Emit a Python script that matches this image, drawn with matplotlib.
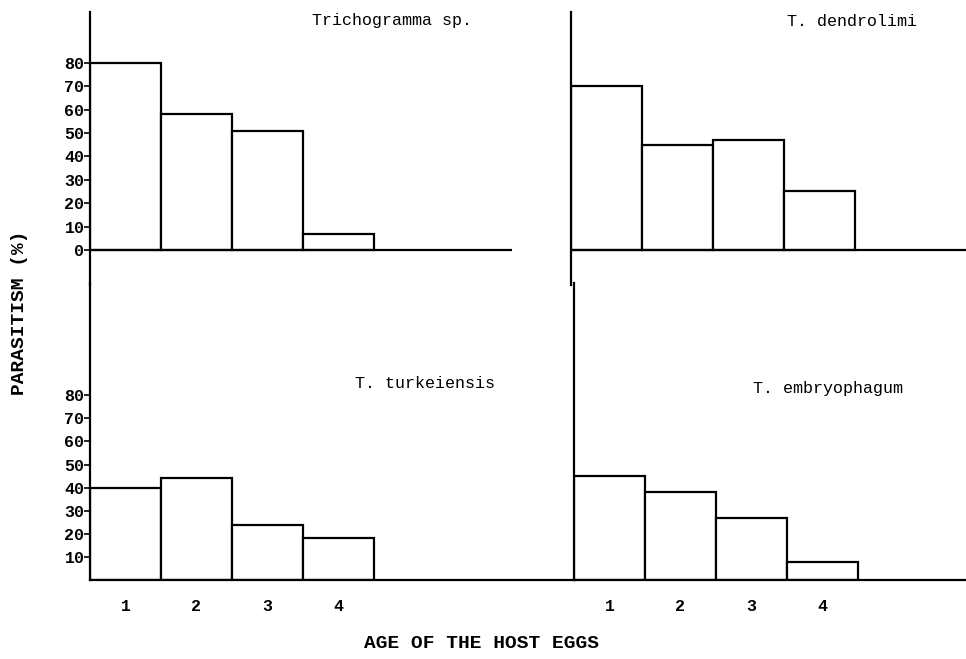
import matplotlib
matplotlib.use("Agg")
import matplotlib.pyplot as plt

# data
ages = [1, 2, 3, 4]
age_labels = ["1", "2", "3", "4"]
trichogramma_sp = [80, 58, 51, 7]
t_dendrolimi = [70, 45, 47, 25]
t_turkeiensis = [40, 44, 24, 18]
t_embryophagum = [45, 38, 27, 8]
top_yticks = [0, 10, 20, 30, 40, 50, 60, 70, 80]
bottom_yticks = [10, 20, 30, 40, 50, 60, 70, 80]

W, H = 966, 659
mono = "Liberation Mono"

fig = plt.figure(figsize=(W / 100, H / 100), dpi=100)
fig.patch.set_facecolor("white")


def px_axes(left, top, right, bottom):
    return fig.add_axes([left / W, 1 - bottom / H, (right - left) / W, (bottom - top) / H])


def panel(ax, values, x_px, top):
    ax.bar(ages, values, width=1.0, facecolor="white", edgecolor="black", linewidth=1.6)
    ax.set_xlim(0.5, 0.5 + x_px / 71)
    for s in ["top", "right"]:
        ax.spines[s].set_visible(False)
    ax.spines["left"].set_linewidth(1.6)
    ax.spines["bottom"].set_linewidth(1.6)
    if top:
        ax.set_ylim(-15, 101.7)
        ax.spines["bottom"].set_visible(False)
        ax.axhline(0, color="black", linewidth=1.6)
        ax.set_xticks([])
    else:
        ax.set_ylim(0, 128.6)
        ax.set_xticks(ages)
        ax.set_xticklabels(age_labels, fontfamily=mono, fontweight="bold", fontsize=12)
        ax.tick_params(axis="x", length=0, pad=14)
    ax.set_yticks([])
    ax.patch.set_alpha(0)


ax1 = px_axes(90, 12, 512, 285)
panel(ax1, trichogramma_sp, 422, True)
ax1.set_yticks(top_yticks)
ax1.set_yticklabels([str(v) for v in top_yticks], fontfamily=mono, fontweight="bold", fontsize=12)
ax1.tick_params(axis="y", length=4, width=1.2, pad=0)

ax2 = px_axes(571, 12, 966, 285)
panel(ax2, t_dendrolimi, 395, True)

ax3 = px_axes(90, 283, 574, 580)
panel(ax3, t_turkeiensis, 484, False)
ax3.set_yticks(bottom_yticks)
ax3.set_yticklabels([str(v) for v in bottom_yticks], fontfamily=mono, fontweight="bold", fontsize=12)
ax3.tick_params(axis="y", length=4, width=1.2, pad=0)

ax4 = px_axes(574, 283, 966, 580)
panel(ax4, t_embryophagum, 392, False)


def ftext(x, y, s, **kw):
    fig.text(x / W, 1 - y / H, s, **kw)


ftext(392, 21, "Trichogramma sp.", fontfamily=mono, fontsize=12, ha="center", va="center")
ftext(852, 22, "T. dendrolimi", fontfamily=mono, fontsize=12, ha="center", va="center")
ftext(425, 384, "T. turkeiensis", fontfamily=mono, fontsize=12, ha="center", va="center")
ftext(828, 388, "T. embryophagum", fontfamily=mono, fontsize=12, ha="center", va="center")

ftext(482, 644, "AGE OF THE HOST EGGS", fontfamily=mono, fontweight="bold",
      fontsize=14, ha="center", va="center")
ftext(20, 313, "PARASITISM (%)", fontfamily=mono, fontweight="bold",
      fontsize=14, ha="center", va="center", rotation=90)

fig.savefig("out.png", dpi=100, facecolor="white")
